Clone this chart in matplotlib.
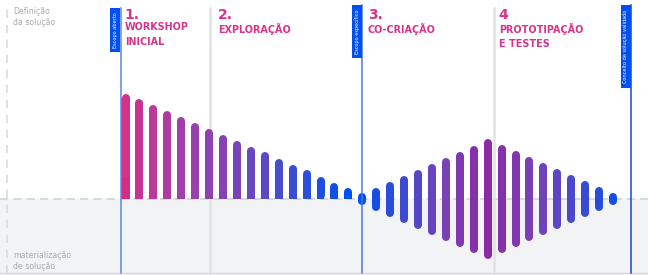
import numpy as np
import matplotlib
matplotlib.use("Agg")
import matplotlib.pyplot as plt
from matplotlib.colors import LinearSegmentedColormap

# one-sided bars (phase 1), height above the baseline
phase1_heights = [105, 100, 94, 88, 82, 76, 70, 64, 58, 52, 47, 40, 34, 29, 22, 16, 11]
# symmetric bars (phase 2 onward), half height around the baseline
phase2_half = [6, 11.5, 17.5, 23.5, 29.5, 35.5, 41.5, 47.5, 53.5, 60,
               54, 48, 42, 36, 30, 24, 18, 12, 6, 2.5]

phase_numbers = ["1.", "2.", "3.", "4"]
phase_names = ["WORKSHOP\nINICIAL", "EXPLORAÇÃO", "CO-CRIAÇÃO", "PROTOTIPAÇÃO\nE TESTES"]
tags = ["Escopo aberto", "Escopo específico", "Conceito de solução validado"]
top_label = "Definição\nda solução"
bottom_label = "materialização\nde solução"

pink = "#d6338a"
blue = "#0050ef"

cmap1 = LinearSegmentedColormap.from_list("p1", ["#d6318a", "#a23ea8", "#7a44b8", "#3a4ed2", "#0050ef"])
cmap2 = LinearSegmentedColormap.from_list("p2", ["#0050ef", "#3f4ad0", "#7a40b6", "#8c2aa6"])

fig = plt.figure(figsize=(6.48, 2.75), dpi=100)
ax = fig.add_axes([0, 0, 1, 1])
step = 13.93
x0 = 125.5
ax.set_xlim(-x0 / step, (648 - x0) / step)
ax.set_ylim(-76, 199)
ax.axis("off")

# lower region + baseline
ax.axhspan(-76, 0, color="#f2f3f5", zorder=0)
ax.axhline(0, color="#d2d3d6", lw=1.2, ls=(0, (5, 3)), zorder=1)
ax.axhline(-74, color="#d8d8da", lw=1.0, zorder=1)
ax.plot([-118.5 / step] * 2, [-74, 194], color="#dcdcdc", lw=1.2, ls=(0, (5, 4)), zorder=1)

lw_pt = 8 * 0.72
r = 4.0
n1 = len(phase1_heights)
for i, h in enumerate(phase1_heights):
    c = cmap1(i / (n1 - 1))
    w = 0.62 if i == 0 else 0.57
    ax.bar(i, h - r, width=w, bottom=0, color=c, zorder=3, linewidth=0)
    ax.plot([i, i], [r, h - r], color=c, lw=lw_pt, solid_capstyle="round", zorder=3)
# darker foot on the first bar
ax.bar(0, 22, width=0.62, bottom=0, color="#d42c86", zorder=3, linewidth=0)

n2 = len(phase2_half)
mid = int(np.argmax(phase2_half))
for j, h in enumerate(phase2_half):
    i = n1 + j
    t = j / mid if j <= mid else (n2 - 1 - j) / (n2 - 1 - mid)
    c = cmap2(t)
    hh = max(h - r, 0.01)
    ax.plot([i, i], [-hh, hh], color=c, lw=lw_pt, solid_capstyle="round", zorder=3)

# phase separators
for xv in [6.07, 26.45]:
    ax.plot([xv, xv], [-74, 191], color="#e2e2e2", lw=1.8, zorder=2)

tag_x = [-0.33, 17.0, 36.3]
tag_top = [191, 194, 194]
tag_bot = [147, 141, 111]
line_cols = ["#5b86e6", "#4a78e2", "#1747c9"]
for k in range(3):
    ax.plot([tag_x[k]] * 2, [-74, tag_top[k]], color=line_cols[k], lw=1.1, zorder=4)
    ax.add_patch(plt.Rectangle((tag_x[k] - 10.5 / step, tag_bot[k]), 10 / step,
                               tag_top[k] - tag_bot[k], color=blue, zorder=5, lw=0))
    ax.text(tag_x[k] - 5.3 / step, (tag_top[k] + tag_bot[k]) / 2, tags[k], rotation=90,
            color="white", fontsize=3.6, ha="center", va="center", zorder=6)

title_x = [-0.05, 6.63, 17.4, 26.8]
for k in range(4):
    ax.text(title_x[k], 191, phase_numbers[k], color=pink, fontsize=10,
            fontweight="bold", ha="left", va="top")
    ax.text(title_x[k], 176.5, phase_names[k], color=pink, fontsize=6.9,
            fontweight="bold", ha="left", va="top", linespacing=1.6)

ax.text(-112.5 / step, 192, top_label, color="#a9a9a9", fontsize=5.6, ha="left", va="top",
        linespacing=1.35)
ax.text(-112.5 / step, -52, bottom_label, color="#a9a9a9", fontsize=5.6, ha="left", va="top",
        linespacing=1.35)

fig.savefig("out.png", dpi=100)
